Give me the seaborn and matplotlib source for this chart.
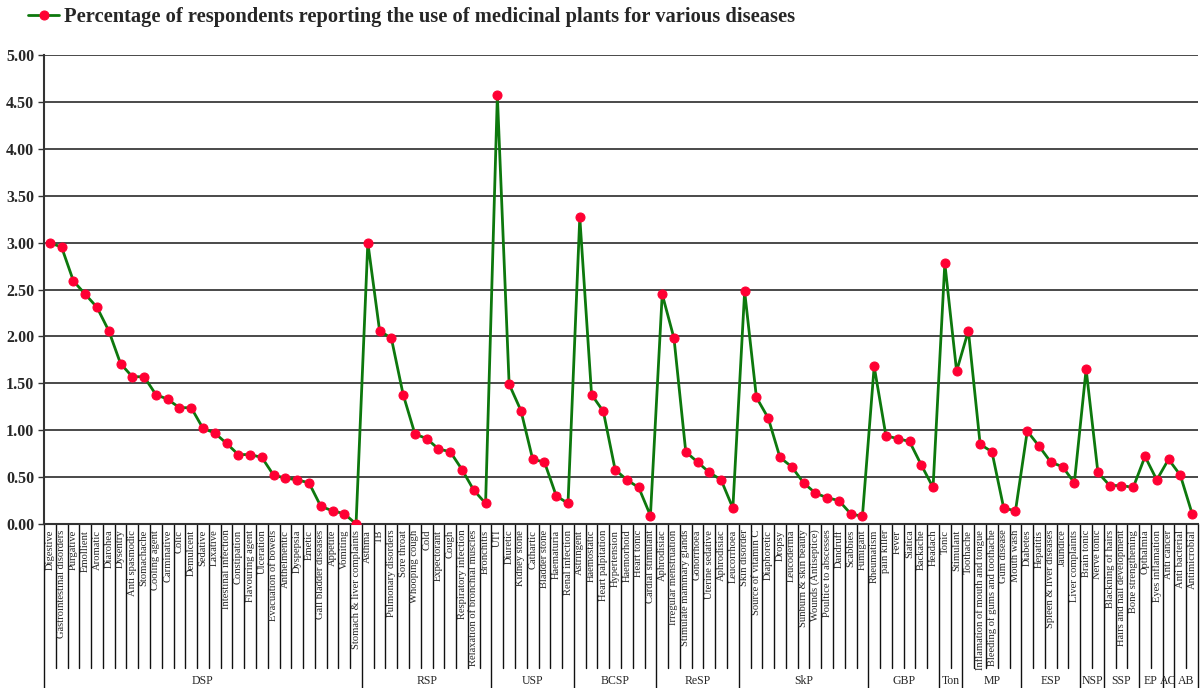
import matplotlib.pyplot as plt
import matplotlib.transforms as mtransforms
import numpy as np
import pandas as pd
import seaborn as sns

sns.set_style("white")
plt.rcParams['font.family'] = ['Liberation Serif', 'DejaVu Serif']

categories = [
    # DSP
    "Digestive", "Gastrointestinal disorders", "Purgative", "Emollient", "Aromatic",
    "Diarohea", "Dysentry", "Anti spasmodic", "Stomachache", "Cooling agent",
    "Carminative", "Colic", "Demulcent", "Sedative", "Laxative", "Intestinal infection",
    "Constipation", "Flavouring agent", "Ulceration", "Evacuation of bowels",
    "Anthelmentic", "Dyspepsia", "Emetic", "Gall bladder diseases", "Appetite",
    "Vomiting", "Stomach & liver complaints",
    # RSP
    "Asthma", "TB", "Pulmonary disorders", "Sore throat", "Whooping cough", "Cold",
    "Expectorant", "Cough", "Respiratory infection", "Relaxation of bronchial muscles",
    "Bronchitis",
    # USP
    "UTI", "Diuretic", "Kidney stone", "Cathartic", "Bladder stone", "Haematuria",
    "Renal infection",
    # BCSP
    "Astringent", "Haemostatic", "Heart palpitation", "Hypertension", "Haemorhoid",
    "Heart tonic", "Cardial stimulant",
    # ReSP
    "Aphrodisiac", "Irregular menstruation", "Stimulate mammary glands", "Gonorrhoea",
    "Uterine sedative", "Aphrodisiac", "Leucorrhoea",
    # SkP
    "Skin disorder", "Source of vitamin C", "Diaphoretic", "Dropsy", "Leucoderma",
    "Sunburn & skin beauty", "Wounds (Antiseptice)", "Poultice to abscesses",
    "Dandruff", "Scabbies", "Fumigant",
    # GBP
    "Rheumatism", "pain killer", "Fever", "Siatica", "Backache", "Headach",
    # Ton
    "Tonic", "Stimulant",
    # MP
    "Toothache", "Inflamation of mouth and tongue", "Bleeding of gums and toothache",
    "Gum disease", "Mouth wash",
    # ESP
    "Diabetes", "Hepatitis", "Spleen & liver diseases", "Jaundice", "Liver complaints",
    # NSP
    "Brain tonic", "Nerve tonic",
    # SSP
    "Blackning of hairs", "Hairs and nail development", "Bone strengthening",
    # EP
    "Opthalmia", "Eyes inflamation",
    # AC
    "Anti cancer",
    # AB
    "Anti bacterial", "Antimicrobial",
]

values = [
    3.00, 2.95, 2.59, 2.45, 2.31, 2.06, 1.71, 1.57, 1.57, 1.38,
    1.33, 1.24, 1.24, 1.02, 0.97, 0.86, 0.74, 0.74, 0.71, 0.52,
    0.49, 0.47, 0.44, 0.19, 0.14, 0.11, 0.00,
    3.00, 2.06, 1.98, 1.38, 0.96, 0.91, 0.80, 0.77, 0.58, 0.36, 0.22,
    4.57, 1.49, 1.21, 0.69, 0.66, 0.30, 0.22,
    3.27, 1.38, 1.20, 0.58, 0.47, 0.39, 0.09,
    2.45, 1.98, 0.77, 0.66, 0.55, 0.47, 0.17,
    2.48, 1.35, 1.13, 0.71, 0.61, 0.44, 0.33, 0.28, 0.25, 0.11, 0.08,
    1.68, 0.94, 0.91, 0.88, 0.63, 0.39,
    2.78, 1.63,
    2.06, 0.85, 0.77, 0.17, 0.14,
    0.99, 0.83, 0.66, 0.61, 0.44,
    1.65, 0.55,
    0.41, 0.41, 0.39,
    0.72, 0.47,
    0.69,
    0.52, 0.11,
]

groups = ["DSP", "RSP", "USP", "BCSP", "ReSP", "SkP", "GBP", "Ton", "MP",
          "ESP", "NSP", "SSP", "EP", "AC", "AB"]
group_sizes = [27, 11, 7, 7, 7, 11, 6, 2, 5, 5, 2, 3, 2, 1, 2]

title = "Percentage of respondents reporting the use of medicinal plants for various diseases"

df = pd.DataFrame({"pos": np.arange(len(categories)), "category": categories, "value": values})

fig = plt.figure(figsize=(12, 6.88), dpi=100)
ax = fig.add_axes([44 / 1200, 1 - 524 / 688, 1154 / 1200, 469 / 688])

sns.lineplot(data=df, x="pos", y="value", ax=ax, color="#0d780d", lw=2.0,
             marker="o", markersize=6.5, markerfacecolor="#ff0033",
             markeredgecolor="#ff0033", label=title, zorder=3)

ax.set_xlim(-0.5, len(categories) - 0.5)
ax.set_ylim(0, 5)
yt = np.arange(0, 5.01, 0.5)
ax.set_yticks(yt)
ax.set_yticklabels(["{:.2f}".format(v) for v in yt], fontweight="bold", fontsize=11.5)
ax.set_xticks([])
ax.set_xlabel("")
ax.set_ylabel("")
ax.yaxis.grid(True, color="#3a3a3a", lw=1.3)
ax.tick_params(axis="y", left=True, length=4, width=1, color="#333333", pad=3)
for s in ["top", "right"]:
    ax.spines[s].set_visible(False)
ax.spines["left"].set_color("#333333")
ax.spines["left"].set_linewidth(1.5)
ax.spines["bottom"].set_color("#333333")
ax.spines["bottom"].set_linewidth(1.5)

trans = mtransforms.blended_transform_factory(ax.transData, ax.transAxes)

# category labels and cell lines
for i, name in enumerate(categories):
    ax.text(i, -0.012, name, rotation=90, ha="center", va="top",
            fontsize=7.6, transform=trans)

edges = np.cumsum([0] + group_sizes) - 0.5
for b in np.arange(-0.5, len(categories), 1.0):
    low = -0.35 if np.any(np.isclose(edges, b)) else -0.307
    ax.plot([b, b], [0, low], transform=trans, clip_on=False, color="#111111", lw=1)

# group labels
for g, a, b in zip(groups, edges[:-1], edges[1:]):
    ax.text((a + b) / 2, -0.335, g, ha="center", va="center", fontsize=8.5,
            transform=trans)

handles, labels = ax.get_legend_handles_labels()
ax.get_legend().remove()
fig.legend(handles, labels, loc="upper left", bbox_to_anchor=(0.008, 1.016),
           frameon=False, prop=dict(weight="bold", size=14.8),
           handlelength=1.5, handletextpad=0.25)

plt.savefig("out.png", dpi=100)
